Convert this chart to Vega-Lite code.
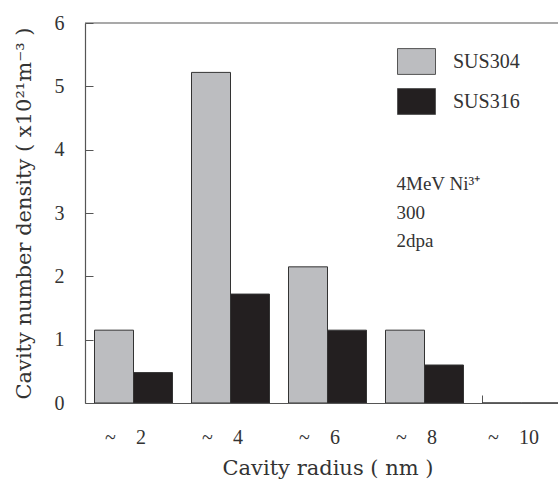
{
  "$schema": "https://vega.github.io/schema/vega-lite/v6.json",
  "autosize": {"type": "none"},
  "width": 473,
  "height": 380,
  "padding": {"left": 85, "top": 23, "right": 0, "bottom": 83},
  "background": "white",
  "config": {
    "view": {"stroke": null},
    "font": "Liberation Serif",
    "axis": {"domainColor": "#555555", "tickColor": "#555555", "labelColor": "#333333", "titleColor": "#333333", "labelFont": "Liberation Serif", "titleFont": "DejaVu Serif", "titleFontWeight": "normal", "grid": false}
  },
  "datasets": {
    "bars": [
      {"radius": "~\u2002\u20022", "steel": "SUS304", "density": 1.15},
      {"radius": "~\u2002\u20022", "steel": "SUS316", "density": 0.48},
      {"radius": "~\u2002\u20024", "steel": "SUS304", "density": 5.22},
      {"radius": "~\u2002\u20024", "steel": "SUS316", "density": 1.72},
      {"radius": "~\u2002\u20026", "steel": "SUS304", "density": 2.15},
      {"radius": "~\u2002\u20026", "steel": "SUS316", "density": 1.15},
      {"radius": "~\u2002\u20028", "steel": "SUS304", "density": 1.15},
      {"radius": "~\u2002\u20028", "steel": "SUS316", "density": 0.6},
      {"radius": "~\u2002\u200210", "steel": "SUS304", "density": 0},
      {"radius": "~\u2002\u200210", "steel": "SUS316", "density": 0}
    ],
    "notes": [
      {"radius": "~\u2002\u20028", "density": 3.46, "note": "4MeV Ni³⁺"},
      {"radius": "~\u2002\u20028", "density": 3.0, "note": "300"},
      {"radius": "~\u2002\u20028", "density": 2.56, "note": "2dpa"}
    ]
  },
  "layer": [
    {
      "data": {"name": "bars"},
      "mark": {"type": "bar", "stroke": "#333333", "strokeWidth": 1, "clip": true},
      "encoding": {
        "x": {
          "field": "radius", "type": "nominal", "sort": null,
          "scale": {"range": [0, 485], "paddingInner": 0.196, "paddingOuter": 0.098},
          "axis": {"title": "Cavity radius ( nm )", "titleFontSize": 21, "titlePadding": 10, "labelAngle": 0, "labelFontSize": 20, "bandPosition": 0, "labelOffset": -8, "tickSize": -8, "labelPadding": 32, "domainWidth": 1.2}
        },
        "xOffset": {"field": "steel", "type": "nominal", "scale": {"paddingInner": 0, "paddingOuter": 0}},
        "y": {
          "field": "density", "type": "quantitative",
          "scale": {"domain": [0, 6]},
          "axis": {"title": "Cavity number density ( x10²¹m⁻³ )", "titleFontSize": 21, "titlePadding": 20, "labelFontSize": 20, "labelOverlap": false, "format": "d", "values": [0,1,2,3,4,5,6], "tickSize": -8, "labelPadding": 29, "domainWidth": 1.2}
        },
        "color": {
          "field": "steel", "type": "nominal",
          "scale": {"domain": ["SUS304", "SUS316"], "range": ["#bcbdc0", "#231f20"]},
          "legend": {"title": null, "orient": "none", "legendX": 312, "legendY": 19, "symbolType": "M-1,-0.68H1V0.68H-1Z", "symbolSize": 1444, "symbolStrokeColor": "#555555", "symbolStrokeWidth": 1, "symbolOpacity": 1, "labelFontSize": 20, "labelColor": "#333333", "labelFont": "Liberation Serif", "labelOffset": 17, "rowPadding": 5, "padding": 0}
        }
      }
    },
    {
      "data": {"name": "notes"},
      "mark": {"type": "text", "align": "left", "baseline": "middle", "dx": -28, "fontSize": 19, "color": "#333333", "font": "Liberation Serif"},
      "encoding": {
        "x": {"field": "radius", "type": "nominal", "sort": null},
        "y": {"field": "density", "type": "quantitative"},
        "text": {"field": "note"}
      }
    },
    {
      "data": {"values": [{}]},
      "mark": {"type": "rule", "color": "#555555", "strokeWidth": 1.2},
      "encoding": {
        "y": {"datum": 6, "type": "quantitative"}
      }
    }
  ]
}
